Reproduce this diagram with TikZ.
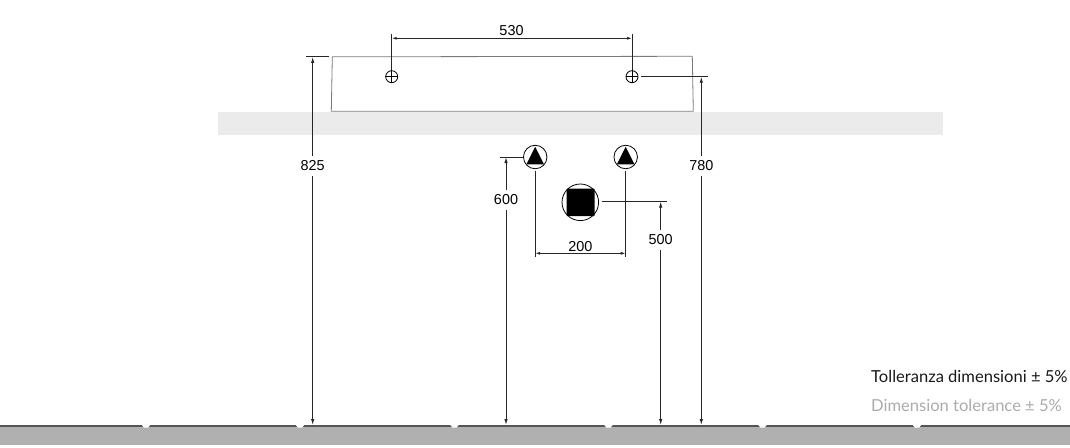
\documentclass[tikz,border=0pt]{standalone}
\usepackage{fontspec}
\setmainfont{Liberation Sans}
\newfontfamily\notefont{Lato}
\usetikzlibrary{arrows.meta}
\definecolor{bandgray}{HTML}{EBEBEB}
\definecolor{floorgray}{HTML}{B0B0B0}
\definecolor{floorline}{HTML}{555555}
\definecolor{sinkline}{HTML}{7A7A7A}
\definecolor{notegray}{HTML}{ABABAB}
\tikzset{
  dimline/.style={draw=black!85,line width=.9pt},
  dimarrow/.style={dimline,-{Latex[length=6pt,width=3.4pt]}},
  dimtext/.style={font=\fontsize{14.4}{16}\selectfont,inner sep=0pt,minimum height=20pt,minimum width=20pt},
  pipe/.style={circle,draw=black,line width=.8pt,inner sep=0pt,minimum size=#1},
  notetext/.style={font=\notefont\fontsize{16.55}{18}\selectfont,anchor=west,inner sep=0pt}
}
\begin{document}
\begin{tikzpicture}[x=1pt,y=-1pt]
  \useasboundingbox(0,0)rectangle(1070,447);
  % wall band and floor
  \fill[bandgray](218,112)rectangle(943,135);
  \fill[floorgray](0,425)rectangle(1070,445);
  \draw[floorline,line width=2pt](0,425.5)--(1070,425.5);
  \foreach \x in {146,300,454.5,608.5,762.5,917}{
    \fill[white](\x-5,424)--(\x+5,424)--(\x+2,427.7)--(\x-2,427.7)--cycle;
  }
  % basin
  \draw[sinkline,line width=.8pt,line join=round](332.3,56.8)--(692.3,56.3)--(693.3,111.2)--(331.3,111.2)--cycle;
  % taps
  \node[pipe=12pt](holeL) at (391.7,76.7){};
  \node[pipe=12pt](holeR) at (632,76.7){};
  \draw[line width=.6pt](holeL.north)--(holeL.south) (holeL.west)--(holeL.east);
  \draw[line width=.6pt](holeR.north)--(holeR.south) (holeR.west)--(holeR.east);
  % water inlets
  \node[pipe=23.5pt](inletL) at (535.2,157){};
  \node[pipe=23.5pt](inletR) at (625.7,157){};
  \fill[black](535.2,146.7)--(544,164.3)--(526.4,164.3)--cycle;
  \fill[black](625.7,146.7)--(634.5,164.3)--(616.9,164.3)--cycle;
  % drain
  \node[pipe=36.6pt](drain) at (580.3,202.3){};
  \fill[black,rounded corners=1pt](566.6,188.6)rectangle(594.6,216.2);
  % free ends of the dimension lines
  \coordinate (extL) at (391.7,34.3);
  \coordinate (extR) at (632,34.3);
  \coordinate (dimL) at (391.7,38.3);
  \coordinate (dimR) at (632,38.3);
  \coordinate (inL) at (535.2,171);
  \coordinate (inR) at (625.7,171);
  \coordinate (inLb) at (535.2,256.5);
  \coordinate (inRb) at (625.7,256.5);
  \coordinate (spanL) at (535.2,253.3);
  \coordinate (spanR) at (625.7,253.3);
  \node[dimtext](lblA) at (511.5,31){530};
  \node[dimtext](lblB) at (580.3,246.5){200};
  \node[dimtext](lblC) at (312.7,165.8){825};
  \node[dimtext](lblD) at (701.3,165.8){780};
  \node[dimtext](lblE) at (506,200){600};
  \node[dimtext](lblF) at (660.7,240){500};
  % horizontal dimensions
  \draw[dimline](holeL.north)--(extL);
  \draw[dimline](holeR.north)--(extR);
  \draw[dimline,{Latex[length=5pt,width=3pt]}-{Latex[length=5pt,width=3pt]}](dimL)--(dimR);
  \draw[dimline](inL)--(inLb);
  \draw[dimline](inR)--(inRb);
  \draw[dimline,{Latex[length=5pt,width=3pt]}-{Latex[length=5pt,width=3pt]}](spanL)--(spanR);
  % vertical dimensions
  \foreach \nm/\x/\ytop/\xa/\xb in {C/312.7/56.8/305.8/329,D/701.3/76.7/641.3/707.7,E/506/157/500/523,F/660.7/201.5/602/667}{
    \coordinate (top\nm) at (\x,\ytop);
    \coordinate (flr\nm) at (\x,425);
    \coordinate (tickA\nm) at (\xa,\ytop);
    \coordinate (tickB\nm) at (\xb,\ytop);
    \draw[dimline](tickA\nm)--(tickB\nm);
    \draw[dimarrow](lbl\nm)--(top\nm);
    \draw[dimarrow](lbl\nm)--(flr\nm);
  }
  % notes
  \node[notetext,text=black!90](noteIt) at (871,376.5){Tolleranza dimensioni ± 5\%};
  \node[notetext,text=notegray](noteEn) at (871,405.5){Dimension tolerance ± 5\%};
\end{tikzpicture}
\end{document}
